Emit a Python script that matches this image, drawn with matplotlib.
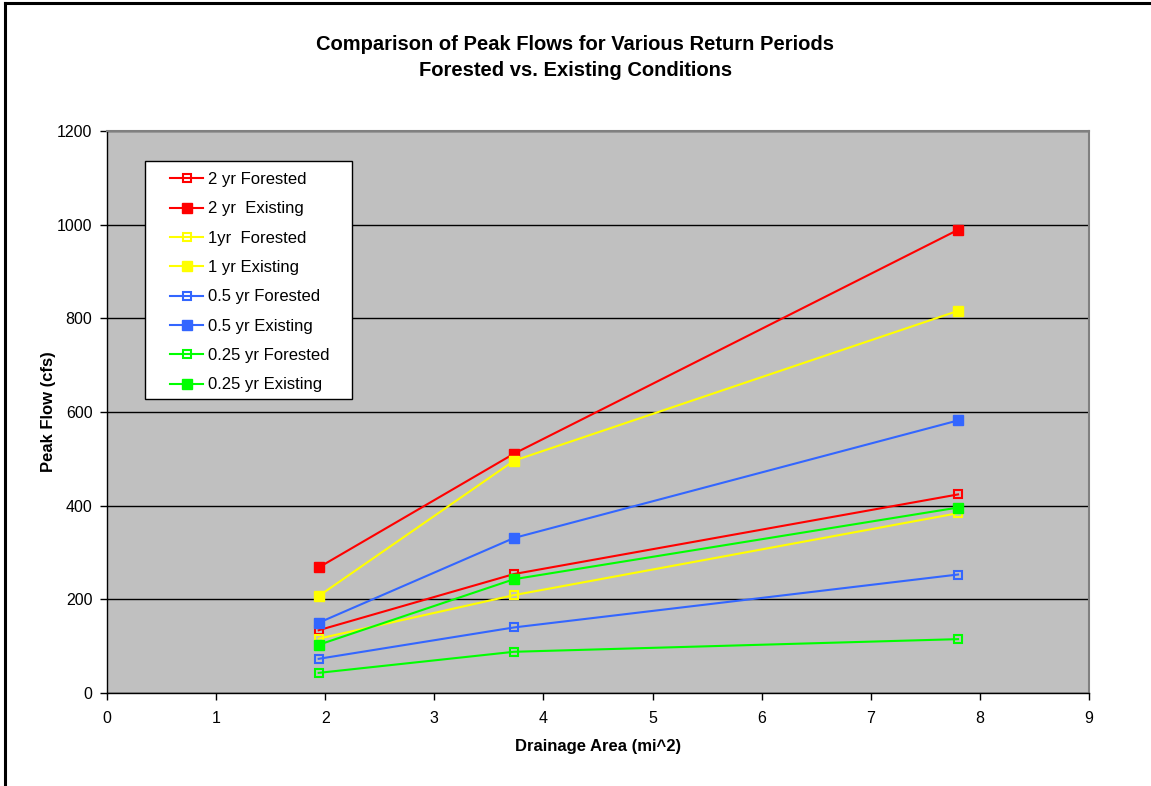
import matplotlib
matplotlib.use('Agg')
import matplotlib.pyplot as plt
from matplotlib.patches import Rectangle
from matplotlib.lines import Line2D

plt.rcParams['font.family'] = ['Liberation Sans', 'DejaVu Sans']

# drainage area (mi^2)
area = [1.94, 3.73, 7.80]

# peak flows (cfs)
yr2_forested = [134, 254, 424]
yr2_existing = [268, 511, 989]
yr1_forested = [116, 209, 384]
yr1_existing = [207, 496, 816]
yr05_forested = [73, 140, 253]
yr05_existing = [150, 331, 582]
yr025_forested = [43, 88, 115]
yr025_existing = [103, 243, 396]

series = [
    ('2 yr Forested', yr2_forested, '#FF0000', False),
    ('2 yr  Existing', yr2_existing, '#FF0000', True),
    ('1yr  Forested', yr1_forested, '#FFFF00', False),
    ('1 yr Existing', yr1_existing, '#FFFF00', True),
    ('0.5 yr Forested', yr05_forested, '#3366FF', False),
    ('0.5 yr Existing', yr05_existing, '#3366FF', True),
    ('0.25 yr Forested', yr025_forested, '#00FF00', False),
    ('0.25 yr Existing', yr025_existing, '#00FF00', True),
]

fig = plt.figure(figsize=(11.51, 7.86), dpi=100)
ax = fig.add_axes([107 / 1151, 1 - 693 / 786, 982 / 1151, 562 / 786])
ax.set_facecolor('#C0C0C0')

for lab, vals, col, filled in series:
    if filled:
        ax.plot(area, vals, color=col, lw=1.5, marker='s', ms=6.8,
                mfc=col, mec=col, label=lab, zorder=3)
    else:
        ax.plot(area, vals, color=col, lw=1.5, marker='s', ms=6.3,
                mfc='none', mec=col, mew=1.5, label=lab, zorder=3)

ax.set_xlim(0, 9)
ax.set_ylim(0, 1200)
ax.set_xticks(range(0, 10))
ax.set_yticks(range(0, 1201, 200))
ax.grid(axis='y', color='black', lw=1)
ax.set_axisbelow(True)
ax.tick_params(direction='out', length=5, width=1, labelsize=11.5)
ax.tick_params(axis='x', pad=8)
ax.tick_params(axis='y', pad=5.5)

for s in ['top', 'right']:
    ax.spines[s].set_color('#808080')
    ax.spines[s].set_linewidth(1.5)
for s in ['left', 'bottom']:
    ax.spines[s].set_color('black')
    ax.spines[s].set_linewidth(1)

ax.set_xlabel('Drainage Area (mi^2)', fontsize=12, fontweight='bold', labelpad=9.5)
ax.set_ylabel('Peak Flow (cfs)', fontsize=12, fontweight='bold', labelpad=1)

fig.text(0.5, 1 - 44 / 786, 'Comparison of Peak Flows for Various Return Periods',
         ha='center', va='center', fontsize=14.5, fontweight='bold')
fig.text(0.5, 1 - 70 / 786, 'Forested vs. Existing Conditions',
         ha='center', va='center', fontsize=14.5, fontweight='bold')

# legend box drawn separately so the entries keep Excel-style left padding
ax.add_patch(Rectangle((38 / 982, 294 / 562), 207 / 982, 238 / 562,
                       transform=ax.transAxes, facecolor='white',
                       edgecolor='black', lw=1, zorder=5))
leg = ax.legend(loc='upper left', bbox_to_anchor=(63 / 982, 521 / 562),
                borderaxespad=0, borderpad=0, frameon=False, fontsize=12,
                labelspacing=0.86, handlelength=2.0, handletextpad=0.25)
leg.set_zorder(6)

# chart border (top and left visible)
fig.add_artist(Line2D([0.004, 0.004], [0, 0.996], transform=fig.transFigure,
                      color='black', lw=2.2))
fig.add_artist(Line2D([0.004, 1], [0.996, 0.996], transform=fig.transFigure,
                      color='black', lw=2.2))

fig.savefig('out.png', dpi=100)
